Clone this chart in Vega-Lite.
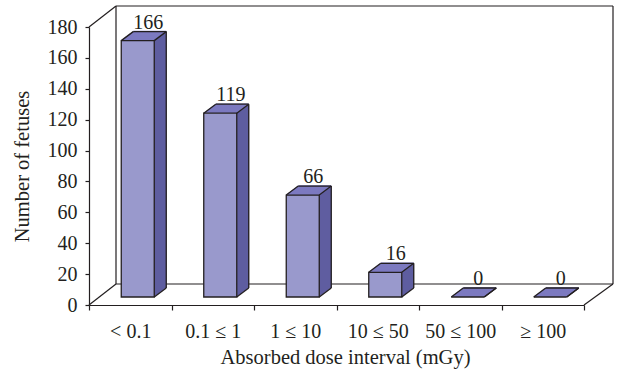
{
  "$schema": "https://vega.github.io/schema/vega-lite/v6.json",
  "autosize": {"type": "none"},
  "width": 495,
  "height": 278,
  "padding": {"left": 89, "top": 27, "right": 34, "bottom": 70},
  "background": "white",
  "config": {
    "view": {"stroke": null},
    "axis": {
      "labelFont": "Liberation Serif", "titleFont": "Liberation Serif",
      "labelFontSize": 20, "titleFontSize": 20.5, "titleFontWeight": "normal",
      "labelColor": "#231F20", "titleColor": "#231F20",
      "domainColor": "#231F20", "tickColor": "#231F20", "domainWidth": 1.2, "tickWidth": 1.2,
      "grid": false
    }
  },
  "data": {"values": [
    {"cat": "< 0.1", "value": 166},
    {"cat": "0.1 ≤ 1", "value": 119},
    {"cat": "1 ≤ 10", "value": 66},
    {"cat": "10 ≤ 50", "value": 16},
    {"cat": "50 ≤ 100", "value": 0},
    {"cat": "≥ 100", "value": 0}
  ]},
  "encoding": {
    "x": {"field": "cat", "type": "nominal", "sort": null,
      "scale": {"domain": ["< 0.1", "0.1 ≤ 1", "1 ≤ 10", "10 ≤ 50", "50 ≤ 100", "≥ 100"], "paddingInner": 0, "paddingOuter": 0},
      "axis": {"title": "Absorbed dose interval (mGy)", "labelAngle": 0, "tickBand": "extent", "tickSize": 5, "labelPadding": 11, "titlePadding": 6, "titleX": 256}},
    "y": {"field": "value", "type": "quantitative",
      "scale": {"domain": [0, 180], "nice": false},
      "axis": {"title": "Number of fetuses", "values": [0, 20, 40, 60, 80, 100, 120, 140, 160, 180], "tickSize": 4, "labelPadding": 8, "titlePadding": 15}}
  },
  "layer": [
    {"transform": [{"filter": "datum.cat == '< 0.1'"}],
      "mark": {"type": "rule", "stroke": "#231F20", "strokeWidth": 1.2, "xOffset": -14.25, "x2Offset": 70.25, "yOffset": -21, "y2Offset": -21},
      "encoding": {"x": {"datum": "< 0.1", "type": "nominal"}, "x2": {"datum": "≥ 100"}, "y": {"datum": 180}, "y2": {"datum": 180}}},
    {"transform": [{"filter": "datum.cat == '< 0.1'"}],
      "mark": {"type": "rule", "stroke": "#231F20", "strokeWidth": 1.2, "xOffset": -14.25, "x2Offset": 70.25, "yOffset": -21, "y2Offset": -21},
      "encoding": {"x": {"datum": "< 0.1", "type": "nominal"}, "x2": {"datum": "≥ 100"}, "y": {"datum": 0}, "y2": {"datum": 0}}},
    {"transform": [{"filter": "datum.cat == '< 0.1'"}],
      "mark": {"type": "rule", "stroke": "#231F20", "strokeWidth": 1.2, "xOffset": -14.25, "yOffset": -21, "y2Offset": -21},
      "encoding": {"x": {"datum": "< 0.1", "type": "nominal"}, "y": {"datum": 180}, "y2": {"datum": 0}}},
    {"transform": [{"filter": "datum.cat == '< 0.1'"}],
      "mark": {"type": "rule", "stroke": "#231F20", "strokeWidth": 1.2, "xOffset": 70.25, "yOffset": -21, "y2Offset": -21},
      "encoding": {"x": {"datum": "≥ 100", "type": "nominal"}, "y": {"datum": 180}, "y2": {"datum": 0}}},
    {"transform": [{"filter": "datum.cat == '< 0.1'"}],
      "mark": {"type": "rule", "stroke": "#231F20", "strokeWidth": 1.2, "xOffset": -41.25, "x2Offset": -14.25, "y2Offset": -21},
      "encoding": {"x": {"datum": "< 0.1", "type": "nominal"}, "x2": {"datum": "< 0.1"}, "y": {"datum": 180}, "y2": {"datum": 180}}},
    {"transform": [{"filter": "datum.cat == '< 0.1'"}],
      "mark": {"type": "rule", "stroke": "#231F20", "strokeWidth": 1.2, "xOffset": -41.25, "x2Offset": -14.25, "y2Offset": -21},
      "encoding": {"x": {"datum": "< 0.1", "type": "nominal"}, "x2": {"datum": "< 0.1"}, "y": {"datum": 0}, "y2": {"datum": 0}}},
    {"transform": [{"filter": "datum.cat == '< 0.1'"}],
      "mark": {"type": "rule", "stroke": "#231F20", "strokeWidth": 1.2, "xOffset": 41.25, "x2Offset": 70.25, "y2Offset": -21},
      "encoding": {"x": {"datum": "≥ 100", "type": "nominal"}, "x2": {"datum": "≥ 100"}, "y": {"datum": 0}, "y2": {"datum": 0}}},

    {"mark": {"type": "bar", "width": 1.6, "fill": "#5F5EA0", "xOffset": 35.5, "yOffset": -17, "y2Offset": -17}, "encoding": {"y2": {"datum": 0}}},
    {"mark": {"type": "bar", "width": 1.6, "fill": "#5F5EA0", "xOffset": 34.5, "yOffset": -16.25, "y2Offset": -16.25}, "encoding": {"y2": {"datum": 0}}},
    {"mark": {"type": "bar", "width": 1.6, "fill": "#5F5EA0", "xOffset": 33.5, "yOffset": -15.5, "y2Offset": -15.5}, "encoding": {"y2": {"datum": 0}}},
    {"mark": {"type": "bar", "width": 1.6, "fill": "#5F5EA0", "xOffset": 32.5, "yOffset": -14.75, "y2Offset": -14.75}, "encoding": {"y2": {"datum": 0}}},
    {"mark": {"type": "bar", "width": 1.6, "fill": "#5F5EA0", "xOffset": 31.5, "yOffset": -14, "y2Offset": -14}, "encoding": {"y2": {"datum": 0}}},
    {"mark": {"type": "bar", "width": 1.6, "fill": "#5F5EA0", "xOffset": 30.5, "yOffset": -13.25, "y2Offset": -13.25}, "encoding": {"y2": {"datum": 0}}},
    {"mark": {"type": "bar", "width": 1.6, "fill": "#5F5EA0", "xOffset": 29.5, "yOffset": -12.5, "y2Offset": -12.5}, "encoding": {"y2": {"datum": 0}}},
    {"mark": {"type": "bar", "width": 1.6, "fill": "#5F5EA0", "xOffset": 28.5, "yOffset": -11.75, "y2Offset": -11.75}, "encoding": {"y2": {"datum": 0}}},
    {"mark": {"type": "bar", "width": 1.6, "fill": "#5F5EA0", "xOffset": 27.5, "yOffset": -11, "y2Offset": -11}, "encoding": {"y2": {"datum": 0}}},
    {"mark": {"type": "bar", "width": 1.6, "fill": "#5F5EA0", "xOffset": 26.5, "yOffset": -10.25, "y2Offset": -10.25}, "encoding": {"y2": {"datum": 0}}},
    {"mark": {"type": "bar", "width": 1.6, "fill": "#5F5EA0", "xOffset": 25.5, "yOffset": -9.5, "y2Offset": -9.5}, "encoding": {"y2": {"datum": 0}}},
    {"mark": {"type": "bar", "width": 1.6, "fill": "#5F5EA0", "xOffset": 24.5, "yOffset": -8.75, "y2Offset": -8.75}, "encoding": {"y2": {"datum": 0}}},

    {"mark": {"type": "bar", "width": 33, "fill": "#7C7AC0", "stroke": "#7C7AC0", "strokeWidth": 1.5, "xOffset": 19.5, "yOffset": -17, "y2Offset": -17}, "encoding": {"y2": {"field": "value"}}},
    {"mark": {"type": "bar", "width": 33, "fill": "#7C7AC0", "stroke": "#7C7AC0", "strokeWidth": 1.5, "xOffset": 18.5, "yOffset": -16.25, "y2Offset": -16.25}, "encoding": {"y2": {"field": "value"}}},
    {"mark": {"type": "bar", "width": 33, "fill": "#7C7AC0", "stroke": "#7C7AC0", "strokeWidth": 1.5, "xOffset": 17.5, "yOffset": -15.5, "y2Offset": -15.5}, "encoding": {"y2": {"field": "value"}}},
    {"mark": {"type": "bar", "width": 33, "fill": "#7C7AC0", "stroke": "#7C7AC0", "strokeWidth": 1.5, "xOffset": 16.5, "yOffset": -14.75, "y2Offset": -14.75}, "encoding": {"y2": {"field": "value"}}},
    {"mark": {"type": "bar", "width": 33, "fill": "#7C7AC0", "stroke": "#7C7AC0", "strokeWidth": 1.5, "xOffset": 15.5, "yOffset": -14, "y2Offset": -14}, "encoding": {"y2": {"field": "value"}}},
    {"mark": {"type": "bar", "width": 33, "fill": "#7C7AC0", "stroke": "#7C7AC0", "strokeWidth": 1.5, "xOffset": 14.5, "yOffset": -13.25, "y2Offset": -13.25}, "encoding": {"y2": {"field": "value"}}},
    {"mark": {"type": "bar", "width": 33, "fill": "#7C7AC0", "stroke": "#7C7AC0", "strokeWidth": 1.5, "xOffset": 13.5, "yOffset": -12.5, "y2Offset": -12.5}, "encoding": {"y2": {"field": "value"}}},
    {"mark": {"type": "bar", "width": 33, "fill": "#7C7AC0", "stroke": "#7C7AC0", "strokeWidth": 1.5, "xOffset": 12.5, "yOffset": -11.75, "y2Offset": -11.75}, "encoding": {"y2": {"field": "value"}}},
    {"mark": {"type": "bar", "width": 33, "fill": "#7C7AC0", "stroke": "#7C7AC0", "strokeWidth": 1.5, "xOffset": 11.5, "yOffset": -11, "y2Offset": -11}, "encoding": {"y2": {"field": "value"}}},
    {"mark": {"type": "bar", "width": 33, "fill": "#7C7AC0", "stroke": "#7C7AC0", "strokeWidth": 1.5, "xOffset": 10.5, "yOffset": -10.25, "y2Offset": -10.25}, "encoding": {"y2": {"field": "value"}}},
    {"mark": {"type": "bar", "width": 33, "fill": "#7C7AC0", "stroke": "#7C7AC0", "strokeWidth": 1.5, "xOffset": 9.5, "yOffset": -9.5, "y2Offset": -9.5}, "encoding": {"y2": {"field": "value"}}},
    {"mark": {"type": "bar", "width": 33, "fill": "#7C7AC0", "stroke": "#7C7AC0", "strokeWidth": 1.5, "xOffset": 8.5, "yOffset": -8.75, "y2Offset": -8.75}, "encoding": {"y2": {"field": "value"}}},

    {"mark": {"type": "bar", "width": 33, "fill": "#9999CC", "stroke": "#231F20", "strokeWidth": 1.3, "xOffset": 7.5, "yOffset": -8, "y2Offset": -8}, "encoding": {"y2": {"datum": 0}}},

    {"mark": {"type": "rule", "stroke": "#231F20", "strokeWidth": 1.3, "xOffset": -9, "x2Offset": 3, "yOffset": -8, "y2Offset": -17},
      "encoding": {"x2": {"field": "cat"}, "y2": {"field": "value"}}},
    {"mark": {"type": "rule", "stroke": "#231F20", "strokeWidth": 1.3, "xOffset": 24, "x2Offset": 36, "yOffset": -8, "y2Offset": -17},
      "encoding": {"x2": {"field": "cat"}, "y2": {"field": "value"}}},
    {"mark": {"type": "rule", "stroke": "#231F20", "strokeWidth": 1.3, "xOffset": 3, "x2Offset": 36, "yOffset": -17, "y2Offset": -17},
      "encoding": {"x2": {"field": "cat"}, "y2": {"field": "value"}}},
    {"mark": {"type": "rule", "stroke": "#231F20", "strokeWidth": 1.3, "xOffset": 36, "yOffset": -17, "y2Offset": -17},
      "encoding": {"y2": {"datum": 0}}},
    {"mark": {"type": "rule", "stroke": "#231F20", "strokeWidth": 1.3, "xOffset": 24, "x2Offset": 36, "yOffset": -8, "y2Offset": -17},
      "encoding": {"x2": {"field": "cat"}, "y": {"datum": 0}, "y2": {"datum": 0}}},

    {"mark": {"type": "text", "font": "Liberation Serif", "fontSize": 20, "fill": "#231F20", "baseline": "alphabetic", "xOffset": 18, "yOffset": -20},
      "encoding": {"text": {"field": "value", "type": "quantitative"}}}
  ]
}
